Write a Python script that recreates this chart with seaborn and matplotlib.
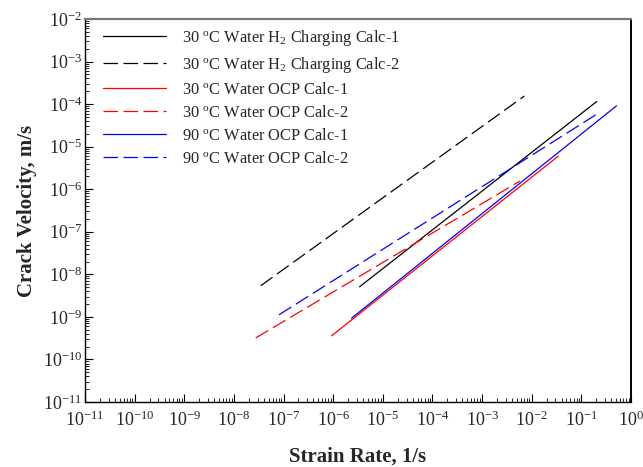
import matplotlib
matplotlib.use("Agg")
import matplotlib.pyplot as plt
import seaborn as sns
import numpy as np
import pandas as pd
from matplotlib.ticker import LogLocator, FixedLocator, NullFormatter

# ---- data ----
labels = [
    "30 $^{\\mathrm{o}}$C Water H$_2$ Charging Calc-1",
    "30 $^{\\mathrm{o}}$C Water H$_2$ Charging Calc-2",
    "30 $^{\\mathrm{o}}$C Water OCP Calc-1",
    "30 $^{\\mathrm{o}}$C Water OCP Calc-2",
    "90 $^{\\mathrm{o}}$C Water OCP Calc-1",
    "90 $^{\\mathrm{o}}$C Water OCP Calc-2",
]
h2_calc1_x = [3.4e-6, 0.204]
h2_calc1_y = [5.1e-9, 1.15e-4]
h2_calc2_x = [3.47e-8, 7.1e-3]
h2_calc2_y = [5.4e-9, 1.55e-4]
ocp30_calc1_x = [9.3e-7, 0.0343]
ocp30_calc1_y = [3.6e-10, 6.0e-6]
ocp30_calc2_x = [2.75e-8, 5.8e-3]
ocp30_calc2_y = [3.2e-10, 1.56e-6]
ocp90_calc1_x = [2.34e-6, 0.51]
ocp90_calc1_y = [9.3e-10, 9.1e-5]
ocp90_calc2_x = [8.1e-8, 0.229]
ocp90_calc2_y = [1.12e-9, 6.3e-5]

xs = [h2_calc1_x, h2_calc2_x, ocp30_calc1_x, ocp30_calc2_x, ocp90_calc1_x, ocp90_calc2_x]
ys = [h2_calc1_y, h2_calc2_y, ocp30_calc1_y, ocp30_calc2_y, ocp90_calc1_y, ocp90_calc2_y]
colors = ["black", "black", "red", "red", "blue", "blue"]
dashed = [False, True, False, True, False, True]

x_exps = list(range(-11, 1))
y_exps = list(range(-11, -1))

sns.set_style("ticks")
plt.rcParams["font.family"] = ["Liberation Serif", "DejaVu Serif"]
plt.rcParams["mathtext.fontset"] = "custom"
plt.rcParams["mathtext.rm"] = "Liberation Serif"
plt.rcParams["mathtext.it"] = "Liberation Serif:italic"
plt.rcParams["mathtext.bf"] = "Liberation Serif:bold"
plt.rcParams["axes.unicode_minus"] = False

fig = plt.figure(figsize=(6.43, 4.67), dpi=100)
ax = fig.add_axes([85 / 643, 1 - 402 / 467, 546 / 643, 383 / 467])

for x, y, c, d, lab in zip(xs, ys, colors, dashed, labels):
    df = pd.DataFrame({"x": x, "y": y})
    ls = (0, (11.6, 4.4)) if d else "-"
    sns.lineplot(data=df, x="x", y="y", ax=ax, color=c, linewidth=0.9,
                 linestyle=ls, label=lab, sort=False, estimator=None)

ax.set_xscale("log")
ax.set_yscale("log")
ax.set_xlim(1e-11, 1)
ax.set_ylim(1e-11, 1e-2)

ax.xaxis.set_major_locator(FixedLocator([10.0 ** e for e in x_exps]))
ax.yaxis.set_major_locator(FixedLocator([10.0 ** e for e in y_exps]))
ax.xaxis.set_minor_locator(LogLocator(base=10, subs=np.arange(2, 10), numticks=20))
ax.yaxis.set_minor_locator(LogLocator(base=10, subs=np.arange(2, 10), numticks=20))
ax.xaxis.set_minor_formatter(NullFormatter())
ax.yaxis.set_minor_formatter(NullFormatter())
ax.set_xticklabels(["10$^{%d}$" % e for e in x_exps])
ax.set_yticklabels(["10$^{%d}$" % e for e in y_exps])

ax.tick_params(axis="both", which="major", direction="in", length=6, width=0.8,
               labelsize=13, top=False, right=False, color="black")
ax.tick_params(axis="both", which="minor", direction="in", length=3, width=0.6,
               top=False, right=False, color="black")
ax.tick_params(axis="x", which="major", pad=6)
ax.tick_params(axis="y", which="major", pad=2)

for s in ["left", "bottom", "right"]:
    ax.spines[s].set_color("black")
    ax.spines[s].set_linewidth(1.0)
ax.spines["top"].set_color("#777777")
ax.spines["top"].set_linewidth(1.6)
ax.spines["right"].set_linewidth(1.4)

ax.set_xlabel("Strain Rate, 1/s", fontsize=15, fontweight="bold", labelpad=12)
ax.set_ylabel("Crack Velocity, m/s", fontsize=15, fontweight="bold", labelpad=4)

leg = ax.legend(loc="upper left", frameon=False, fontsize=11.8, handlelength=3.85,
                handletextpad=0.93, labelspacing=0.43, borderaxespad=0.0,
                borderpad=0.0, bbox_to_anchor=(18.3 / 546, 1 - 9.0 / 383))

fig.savefig("out.png", dpi=100)
